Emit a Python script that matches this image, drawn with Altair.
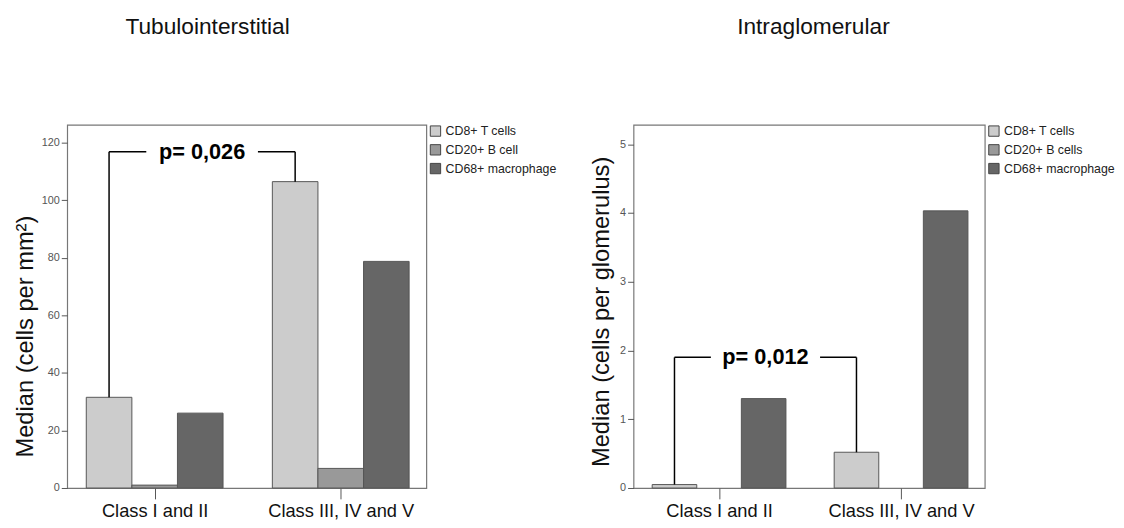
import altair as alt
import pandas as pd

# ---------------- data ----------------
groups = ["Class I and II", "Class III, IV and V"]
colors = ["#cccccc", "#999999", "#666666"]

left_title = "Tubulointerstitial"
left_ytitle = "Median (cells per mm²)"
left_series = ["CD8+ T cells", "CD20+ B cell", "CD68+ macrophage"]
left_cd8 = [31.5, 106.4]
left_cd20 = [1.0, 6.8]
left_cd68 = [26.0, 78.7]
left_ticks = [0, 20, 40, 60, 80, 100, 120]
left_ymax = 126.1
left_p = "p= 0,026"
left_bracket_top = 116.8

right_title = "Intraglomerular"
right_ytitle = "Median (cells per glomerulus)"
right_series = ["CD8+ T cells", "CD20+ B cells", "CD68+ macrophage"]
right_cd8 = [0.05, 0.52]
right_cd20 = [0.0, 0.0]
right_cd68 = [1.30, 4.03]
right_ticks = [0, 1, 2, 3, 4, 5]
right_ymax = 5.28
right_p = "p= 0,012"
right_bracket_top = 1.90

FONT = "Arial, Liberation Sans, sans-serif"
BW = 0.245          # bar width in group units
XDOM = [-0.47, 1.46]
HALF_GAP = 0.30


def panel(title, title_dx, ytitle, ytitle_x, ytitle_y, series, vals, ticks, ymax,
          ptext, ptop, width):
    rows = []
    for si, (name, arr) in enumerate(zip(series, vals)):
        for gi, v in enumerate(arr):
            c = gi + (si - 1) * BW
            rows.append({"series": name, "group": groups[gi], "x": c - BW / 2,
                         "x2": c + BW / 2, "value": v, "base": 0})
    bars_df = pd.DataFrame(rows)

    c0 = 0 + (0 - 1) * BW
    c1 = 1 + (0 - 1) * BW
    mid = (c0 + c1) / 2
    v0, v1 = vals[0][0], vals[0][1]
    seg_df = pd.DataFrame([
        {"x": c0, "x2": c0, "y": v0, "y2": ptop},
        {"x": c0, "x2": mid - HALF_GAP, "y": ptop, "y2": ptop},
        {"x": mid + HALF_GAP, "x2": c1, "y": ptop, "y2": ptop},
        {"x": c1, "x2": c1, "y": ptop, "y2": v1},
    ])
    txt_df = pd.DataFrame([{"x": mid, "y": ptop, "t": ptext}])

    label_expr = "datum.value == 0 ? '%s' : '%s'" % (groups[0], groups[1])
    xscale = alt.Scale(domain=XDOM, nice=False, zero=False)
    yscale = alt.Scale(domain=[0, ymax], nice=False)

    xaxis = alt.Axis(values=[0, 1], labelExpr=label_expr, tickSize=11,
                     tickColor="#555555", labelFontSize=18.5, labelColor="#111111",
                     labelPadding=3, domain=False, grid=False, title=None,
                     labelFont=FONT)
    yaxis = alt.Axis(values=ticks, format="d", tickSize=6, tickColor="#555555",
                     labelFontSize=11, labelColor="#555555", labelPadding=2,
                     domain=False, grid=False, title=ytitle, titleFontSize=24,
                     titleFontWeight="normal", titleColor="#111111", titleFont=FONT,
                     titleX=ytitle_x, titleY=ytitle_y, labelFont=FONT)

    bars = alt.Chart(bars_df).mark_bar(stroke="#555555", strokeWidth=1).encode(
        x=alt.X("x:Q", scale=xscale, axis=xaxis),
        x2="x2:Q",
        y=alt.Y("value:Q", scale=yscale, axis=yaxis),
        y2="base:Q",
        strokeOpacity=alt.condition(alt.datum.value > 0, alt.value(1), alt.value(0)),
        color=alt.Color("series:N", scale=alt.Scale(domain=series, range=colors),
                        sort=series,
                        legend=alt.Legend(title=None, orient="right", symbolType="square",
                                          symbolSize=110, symbolStrokeColor="#444444",
                                          symbolStrokeWidth=1, labelFontSize=12.5,
                                          labelColor="#222222", labelFont=FONT,
                                          rowPadding=4, offset=3, padding=0,
                                          labelOffset=4)),
    )
    rules = alt.Chart(seg_df).mark_rule(color="black", strokeWidth=1.5).encode(
        x="x:Q", x2="x2:Q", y="y:Q", y2="y2:Q")
    text = alt.Chart(txt_df).mark_text(fontSize=22, fontWeight="bold", font=FONT,
                                       color="black", baseline="middle",
                                       align="center").encode(
        x="x:Q", y="y:Q", text="t:N")

    return alt.layer(bars, rules, text).properties(
        width=width, height=368,
        title=alt.TitleParams(title, anchor="start", frame="group", dx=title_dx,
                              fontSize=23, fontWeight="normal", font=FONT,
                              color="#111111", offset=87),
    )


left = panel(left_title, 59, left_ytitle, -30, 214, left_series,
             [left_cd8, left_cd20, left_cd68], left_ticks, left_ymax,
             left_p, left_bracket_top, 364)
right = panel(right_title, 105, right_ytitle, -20, 189, right_series,
              [right_cd8, right_cd20, right_cd68], right_ticks, right_ymax,
              right_p, right_bracket_top, 356)

chart = alt.hconcat(left, right, spacing=32).resolve_scale(
    color="independent", x="independent", y="independent"
).configure_view(stroke="#777777", strokeWidth=1.2).properties(
    padding={"left": 5, "top": 4, "right": 0, "bottom": 0}
)

chart.save("out.html", embed_options={"renderer": "svg", "actions": False})
